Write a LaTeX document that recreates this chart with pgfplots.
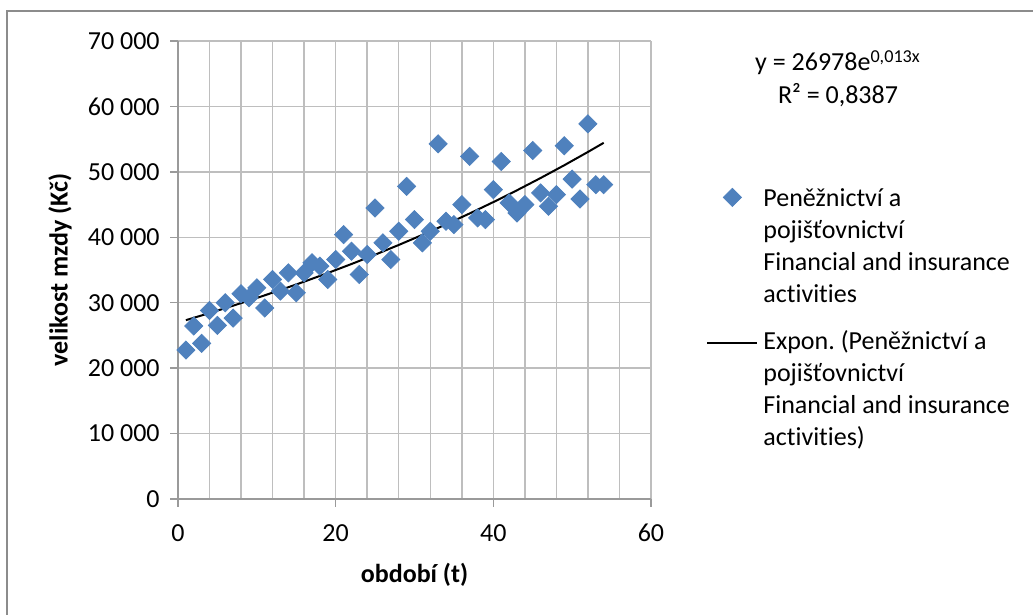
\documentclass[border=0pt]{standalone}
\usepackage{pgfplots}
\pgfplotsset{compat=1.18}
\usepackage{fontspec}
\setmainfont{Carlito}[Ligatures=NoCommon]
\frenchspacing
\definecolor{ser}{HTML}{4F81BD}
\definecolor{gridc}{HTML}{BEBEBE}
\definecolor{axc}{HTML}{9A9A9A}
\definecolor{framec}{HTML}{8C8C8C}
\pgfplotsset{
  scatleg/.style={legend image code/.code={\path (0bp,4.5bp) (25bp,4.5bp); \draw[##1] plot coordinates {(12.5bp,4.5bp)};}},
  lineleg/.style={legend image code/.code={\draw[##1] (0bp,3bp) -- (25bp,3bp);}},
}
\pgfplotstableread{
t v
1 22770
2 26430
3 23790
4 28820
5 26530
6 29990
7 27650
8 31370
9 30760
10 32280
11 29180
12 33550
13 31770
14 34570
15 31520
16 34570
17 36100
18 35580
19 33550
20 36600
21 40410
22 37870
23 34310
24 37360
25 44480
26 39150
27 36600
28 40920
29 47780
30 42700
31 39150
32 40920
33 54290
34 42450
35 41940
36 44990
37 52360
38 42960
39 42700
40 47280
41 51590
42 45250
43 43720
44 44990
45 53270
46 46770
47 44730
48 46510
49 53990
50 48900
51 45850
52 57340
53 48040
54 48040
}\datatab
\pgfplotstableread{
t v
1 27331
4 28418
7 29548
10 30723
13 31945
16 33216
19 34537
22 35910
25 37339
28 38824
31 40368
34 41973
37 43642
40 45378
43 47182
46 49059
49 51010
52 53039
54 54436
}\trendtab
\begin{document}
\fontsize{13bp}{16bp}\selectfont
\begin{tikzpicture}
\useasboundingbox (0,0) rectangle (516.5bp,307.5bp);
\draw[framec, line width=0.75bp] (3.5bp,0) -- (3.5bp,302bp) -- (516.5bp,302bp);
\begin{axis}[
  at={(89bp,58bp)}, anchor=south west, scale only axis,
  width=236.5bp, height=229bp,
  xmin=0, xmax=60, ymin=0, ymax=70000,
  scaled y ticks=false, scaled x ticks=false,
  axis lines=left, axis line style={-, axc, line width=0.75bp},
  xtick={0,20,40,60}, xticklabels={0,20,40,60},
  minor xtick={4,8,12,16,24,28,32,36,44,48,52,56},
  ytick={0,10000,20000,30000,40000,50000,60000,70000},
  yticklabels={0,10 000,20 000,30 000,40 000,50 000,60 000,70 000},
  grid=both,
  major grid style={gridc, line width=0.75bp},
  minor grid style={gridc, line width=0.75bp},
  tick align=outside, major tick length=4bp, minor tick length=0pt,
  tick style={axc, line width=0.75bp},
  ticklabel style={font=\fontsize{13bp}{16bp}\selectfont, inner sep=0pt},
  xticklabel style={anchor=north, yshift=-8.5bp},
  yticklabel style={anchor=east, xshift=-5bp},
  xlabel={období (t)}, ylabel={velikost mzdy (Kč)},
  label style={font=\bfseries\fontsize{13bp}{16bp}\selectfont},
  xlabel style={at={(axis description cs:0.5,-0.1659)}, anchor=center},
  ylabel style={at={(axis description cs:-0.2495,0.5)}, anchor=center},
  legend style={draw=none, fill=none, at={(1.1163,0.6886)}, anchor=north west,
    inner sep=0pt, row sep=7.5bp, column sep=2.5bp,
    cells={anchor=base west},
    nodes={inner sep=0pt, text depth=}, font=\fontsize{13bp}{16bp}\selectfont},
]
\addplot[only marks, mark=square*, mark size=3.2bp, mark options={rotate=45, fill=ser, draw=ser}, scatleg]
  table[x=t, y=v] {\datatab};
\addlegendentry{\begin{tabular}[t]{@{}l@{}}Peněžnictví a\\pojišťovnictví\\Financial and insurance\\activities\end{tabular}}
\addplot[black, line width=1bp, no marks, lineleg]
  table[x=t, y=v] {\trendtab};
\addlegendentry{\begin{tabular}[t]{@{}l@{}}Expon. (Peněžnictví a\\pojišťovnictví\\Financial and insurance\\activities)\end{tabular}}
\end{axis}
\node[anchor=base] at (419bp,272bp) {y = 26978e\textsuperscript{0,013x}};
\node[anchor=base] at (419bp,255.75bp) {R² = 0,8387};
\end{tikzpicture}
\end{document}
